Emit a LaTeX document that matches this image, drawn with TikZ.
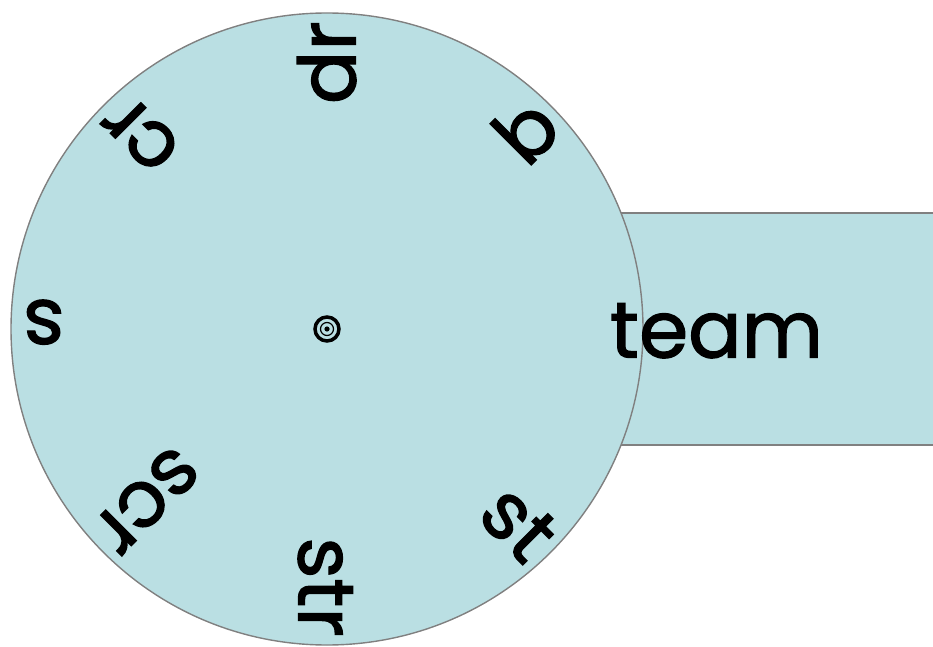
\documentclass[tikz,border=0pt]{standalone}
\usepackage{fontspec}
\setmainfont{Poppins}
\newfontfamily\labfont{Poppins}[FakeBold=1.6]
\usetikzlibrary{calc}
\definecolor{wheelfill}{RGB}{186,223,227}
\definecolor{wheelline}{RGB}{128,128,128}
\tikzset{
  shapebox/.style={fill=wheelfill, draw=wheelline, line width=1.4pt},
  lab/.style={anchor=east, inner sep=0pt, text height=57pt, text depth=0pt,
              font=\labfont\fontsize{79}{79}\selectfont},
  word/.style={anchor=base west, inner sep=0pt, font=\labfont\fontsize{79}{79}\selectfont}
}
\begin{document}
\begin{tikzpicture}[x=1pt,y=1pt]
\useasboundingbox (0,0) rectangle (933,646);
\clip (0,0) rectangle (933,646);
\coordinate (c) at (327,317);
% rectangle (behind the wheel)
\path[shapebox] (400,201) rectangle (950,433);
% wheel
\path[shapebox] (c) circle (316);
% onsets
\node[lab, rotate=0]   (t)   at ($(c)+(0:312)$)   {t};
\node[lab, rotate=45]  (b)   at ($(c)+(45:308)$)  {b};
\node[lab, rotate=90]  (dr)  at ($(c)+(90:308)$)  {dr};
\node[lab, rotate=135] (cr)  at ($(c)+(135:308)$) {cr};
\node[lab, rotate=180] (s)   at ($(c)+(180:304)$) {s};
\node[lab, rotate=225] (scr) at ($(c)+(225:308)$) {scr};
\node[lab, rotate=270] (str) at ($(c)+(270:308)$) {str};
\node[lab, rotate=315] (st)  at ($(c)+(315:308)$) {st};
% rime
\node[word] (eam) at (t.base east) {eam};
% centre pin
\draw[line width=3.5pt] (c) circle (12);
\draw[line width=1.2pt] (c) circle (6.5);
\fill (c) circle (2.6);
\end{tikzpicture}
\end{document}
